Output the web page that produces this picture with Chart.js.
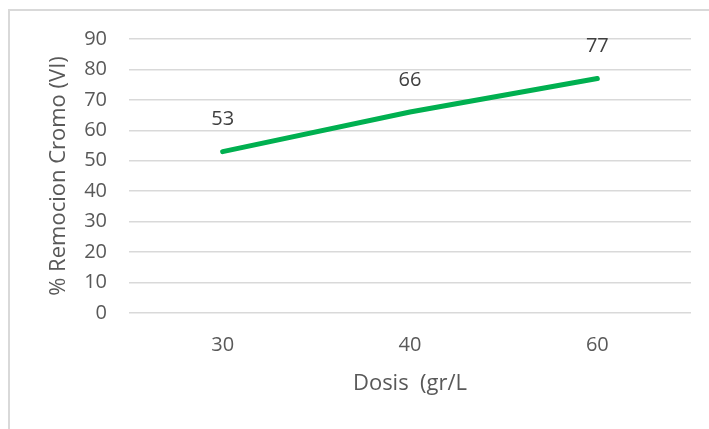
<!DOCTYPE html>
<html>
<head>
<meta charset="utf-8">
<script src="https://cdn.jsdelivr.net/npm/chart.js@4/dist/chart.umd.min.js"></script>
<style>
  html, body { margin: 0; padding: 0; background: #fff; overflow: hidden; }
  #frame { position: absolute; left: 8px; top: 9px; width: 760px; height: 480px;
           border: 2px solid #d9d9d9; box-sizing: border-box; }
  #wrap { position: absolute; left: 0; top: 0; width: 709px; height: 429px; }
</style>
</head>
<body>
<div id="frame"></div>
<div id="wrap"><canvas id="myChart" width="709" height="429"></canvas></div>
<script>
var dosis = ['30', '40', '60'];
var remocion = [53, 66, 77];
var yTicks = [0, 10, 20, 30, 40, 50, 60, 70, 80, 90];

var fontFam = '"Open Sans", "Liberation Sans", sans-serif';

// etiquetas de valor encima de cada punto
var valueLabels = {
    id: 'valueLabels',
    afterDatasetsDraw: function(chart) {
        var ctx = chart.ctx;
        var meta = chart.getDatasetMeta(0);
        var data = chart.data.datasets[0].data;
        ctx.save();
        ctx.font = '20px ' + fontFam;
        ctx.fillStyle = '#404040';
        ctx.textAlign = 'center';
        ctx.textBaseline = 'middle';
        meta.data.forEach(function(pt, i) {
            ctx.fillText(String(data[i]), pt.x, pt.y - 32);
        });
        ctx.restore();
    }
};

var ctx = document.getElementById('myChart').getContext('2d');
var chart = new Chart(ctx, {
    type: 'line',
    data: {
        labels: dosis,
        datasets: [{
            data: remocion,
            borderColor: '#00B050',
            borderWidth: 5,
            borderCapStyle: 'round',
            pointRadius: 0,
            pointHoverRadius: 0,
            tension: 0,
            fill: false
        }]
    },
    options: {
        responsive: false,
        animation: false,
        events: [],
        layout: { padding: { left: 0, right: 18, top: 39, bottom: 26 } },
        plugins: { legend: { display: false }, tooltip: { enabled: false } },
        scales: {
            x: {
                offset: true,
                grid: { display: false, drawTicks: false },
                border: { display: false },
                ticks: { color: '#595959', font: { family: fontFam, size: 20 }, padding: 20 },
                title: {
                    display: true, text: 'Dosis  (gr/L', color: '#595959',
                    font: { family: fontFam, size: 22 }, padding: { top: 0, bottom: 6 }
                },
                afterFit: function(scale) { scale.height = 90; }
            },
            y: {
                min: 0, max: 90,
                afterBuildTicks: function(scale) {
                    scale.ticks = yTicks.map(function(v) { return { value: v }; });
                },
                grid: { color: '#d9d9d9', lineWidth: 1.5, drawTicks: false },
                border: { display: false },
                ticks: { color: '#595959', font: { family: fontFam, size: 20 }, padding: 22 },
                title: {
                    display: true, text: '% Remocion Cromo (VI)', color: '#595959',
                    font: { family: fontFam, size: 22 }, padding: { top: 46, bottom: 0 }
                },
                afterFit: function(scale) { scale.width = 129; }
            }
        }
    },
    plugins: [valueLabels]
});
</script>
</body>
</html>
